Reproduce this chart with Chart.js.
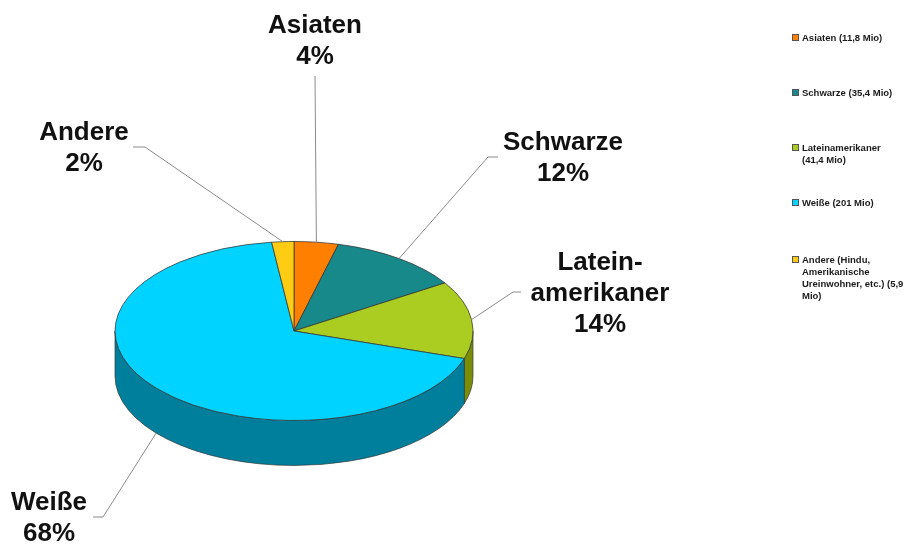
<!DOCTYPE html>
<html>
<head>
<meta charset="utf-8">
<script src="https://cdn.jsdelivr.net/npm/chart.js@4"></script>
<style>
html, body { margin: 0; padding: 0; background: #fff; }
#wrap { position: relative; width: 915px; height: 544px; }
#legend { position: absolute; left: 792px; top: 0; width: 123px; font: bold 9.5px "Liberation Sans", Arial, sans-serif; color: #1a1a1a; }
.item { position: absolute; left: 0; width: 102px; line-height: 12px; padding-left: 10px; }
.box { position: absolute; left: 0; top: 2px; width: 7px; height: 7px; border: 1px solid #555; box-sizing: border-box; }
</style>
</head>
<body>
<div id="wrap">
  <canvas id="pieChart" width="915" height="544"></canvas>
  <div id="legend"></div>
</div>
<script>
// data
const categories = ['Asiaten', 'Schwarze', 'Lateinamerikaner', 'Weiße', 'Andere'];
const millions = [11.8, 35.4, 41.4, 201, 5.9];
const legendLabels = ['Asiaten (11,8 Mio)', 'Schwarze (35,4 Mio)', 'Lateinamerikaner (41,4 Mio)', 'Weiße (201 Mio)', 'Andere (Hindu, Amerikanische Ureinwohner, etc.) (5,9 Mio)'];
const sliceLabels = [['Asiaten'], ['Schwarze'], ['Latein-', 'amerikaner'], ['Weiße'], ['Andere']];

const colors = ['#ff7f00', '#17898b', '#abcd22', '#00d3ff', '#ffcc14'];
const sideColors = ['#b85a00', '#0f6163', '#7a8d05', '#007f9c', '#b89300'];

// where the callout texts sit (center x, first baseline) and the elbow of each leader line
const labelLayout = [
    { x: 315, y: 33, elbow: [[315, 76]] },
    { x: 563, y: 150, elbow: [[498, 157], [488, 157]] },
    { x: 600, y: 270, elbow: [[521, 292], [513, 292]] },
    { x: 49, y: 510, elbow: [[93, 517], [103, 517]], side: true },
    { x: 84, y: 140, elbow: [[133, 147], [145, 147]] }
];

const tilt = 0.5;
const depth = 45;
const total = millions.reduce((a, b) => a + b, 0);

// legend
const legend = document.getElementById('legend');
const legendTops = [32, 87, 142, 197, 254];
legendLabels.forEach((txt, i) => {
    let div = document.createElement('div');
    div.className = 'item';
    div.style.top = legendTops[i] + 'px';
    div.innerHTML = '<span class="box" style="background:' + colors[i] + '"></span>' + txt;
    legend.appendChild(div);
});

const pie3d = {
    id: 'pie3d',
    beforeDatasetsDraw(chart) {
        const ctx = chart.ctx;
        const arcs = chart.getDatasetMeta(0).data;
        const cx = arcs[0].x, cy = arcs[0].y, r = arcs[0].outerRadius;

        // side walls (only the front half is visible)
        arcs.forEach((a, i) => {
            let s = Math.max(a.startAngle, 0);
            let e = Math.min(a.endAngle, Math.PI);
            if (e <= s) return;
            ctx.beginPath();
            ctx.ellipse(cx, cy, r, r * tilt, 0, s, e);
            ctx.ellipse(cx, cy + depth, r, r * tilt, 0, e, s, true);
            ctx.closePath();
            ctx.fillStyle = sideColors[i];
            ctx.fill();
            ctx.strokeStyle = '#2e3a3a';
            ctx.lineWidth = 0.7;
            ctx.stroke();
        });

        // squash the top face
        ctx.save();
        ctx.translate(cx, cy);
        ctx.scale(1, tilt);
        ctx.translate(-cx, -cy);
    },
    afterDatasetsDraw(chart) {
        const ctx = chart.ctx;
        ctx.restore();

        const arcs = chart.getDatasetMeta(0).data;
        const cx = arcs[0].x, cy = arcs[0].y, r = arcs[0].outerRadius;

        arcs.forEach((a, i) => {
            const lay = labelLayout[i];
            const mid = (a.startAngle + a.endAngle) / 2;
            let px = cx + r * Math.cos(mid);
            let py = cy + r * tilt * Math.sin(mid) + (lay.side ? depth : 0);

            // leader line
            ctx.beginPath();
            ctx.moveTo(lay.elbow[0][0], lay.elbow[0][1]);
            for (let k = 1; k < lay.elbow.length; k++) ctx.lineTo(lay.elbow[k][0], lay.elbow[k][1]);
            ctx.lineTo(px, py);
            ctx.strokeStyle = '#8a8a8a';
            ctx.lineWidth = 1;
            ctx.stroke();

            // text
            let lines = sliceLabels[i].concat([Math.round(millions[i] / total * 100) + '%']);
            ctx.fillStyle = '#111';
            ctx.font = 'bold 26px "Liberation Sans", Arial, sans-serif';
            ctx.textAlign = 'center';
            ctx.textBaseline = 'alphabetic';
            lines.forEach((t, k) => ctx.fillText(t, lay.x, lay.y + k * 31));
        });
    }
};

new Chart(document.getElementById('pieChart'), {
    type: 'pie',
    data: {
        labels: categories,
        datasets: [{
            data: millions,
            backgroundColor: colors,
            borderColor: '#333',
            borderWidth: 1,
            clip: false
        }]
    },
    options: {
        responsive: false,
        animation: false,
        events: [],
        radius: 179,
        layout: { padding: { left: 115, right: 442, top: 152, bottom: 34 } },
        plugins: {
            legend: { display: false },
            tooltip: { enabled: false }
        }
    },
    plugins: [pie3d]
});
</script>
</body>
</html>
